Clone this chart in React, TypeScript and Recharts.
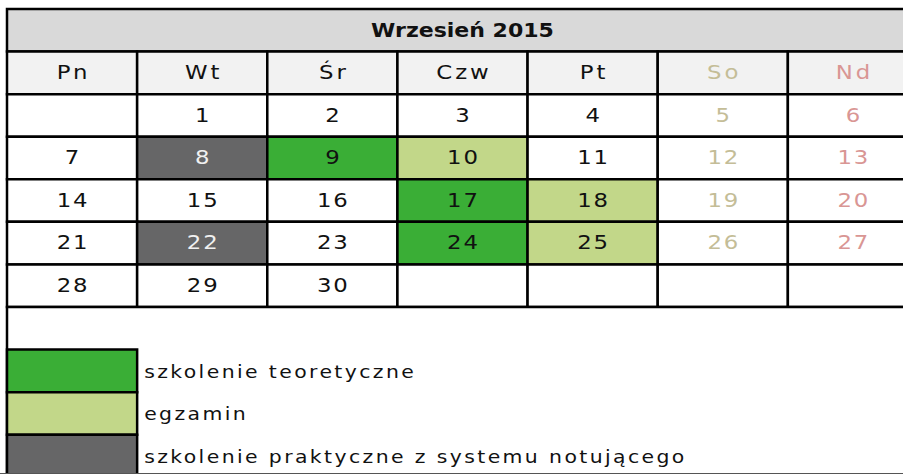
import { ScatterChart, XAxis, YAxis, ReferenceArea, Scatter } from 'recharts'

const title = 'Wrzesień 2015'
const weekdays = ['Pn', 'Wt', 'Śr', 'Czw', 'Pt', 'So', 'Nd']
const weeks: (number | null)[][] = [
  [null, 1, 2, 3, 4, 5, 6],
  [7, 8, 9, 10, 11, 12, 13],
  [14, 15, 16, 17, 18, 19, 20],
  [21, 22, 23, 24, 25, 26, 27],
  [28, 29, 30, null, null, null, null],
]
const teoria = [9, 17, 24]
const egzamin = [10, 18, 25]
const praktyka = [8, 22]
const legendLabels = ['szkolenie teoretyczne', 'egzamin', 'szkolenie praktyczne z systemu notującego']

const GREEN = '#3aae36'
const LIGHT = '#c2d789'
const GRAY = '#666667'
const FONT = '"DejaVu Sans", Verdana, sans-serif'
const SX = 1.2

const dayColor = (col: number, fill: string) =>
  fill === GRAY ? '#f0f0f0' : col === 5 ? '#c4bd97' : col === 6 ? '#d99694' : '#111'

const cellFill = (day: number) =>
  teoria.includes(day) ? GREEN : egzamin.includes(day) ? LIGHT : praktyka.includes(day) ? GRAY : '#fff'

const cells = weeks.flatMap((week, w) =>
  week.map((day, col) => ({ day, col, row: w + 2, fill: day ? cellFill(day) : '#fff' }))
)
const dayPoints = cells
  .filter((c) => c.day !== null)
  .map((c) => ({ x: c.col + 0.5, y: c.row + 0.5, day: c.day, col: c.col, fill: c.fill }))

function SText({ x, y, text, color, size = 19, spacing = 1.5, bold = false, anchor = 'middle', sx = SX }: any) {
  return (
    <text
      transform={`translate(${x},${y}) scale(${sx},1)`}
      dx={anchor === 'middle' ? spacing / 2 : 0}
      textAnchor={anchor}
      dominantBaseline="central"
      fontFamily={FONT}
      fontSize={size}
      fontWeight={bold ? 'bold' : 'normal'}
      letterSpacing={spacing}
      fill={color}
    >
      {text}
    </text>
  )
}

const centerLabel = (text: string, color: string, opts: any = {}) => (props: any) => {
  const vb = props.viewBox
  return <SText x={vb.x + vb.width / 2} y={vb.y + vb.height / 2} text={text} color={color} {...opts} />
}

const leftLabel = (text: string) => (props: any) => {
  const vb = props.viewBox
  return <SText x={vb.x + 7} y={vb.y + vb.height / 2 + 1} text={text} color="#111" anchor="start" size={17} spacing={2} />
}

const legendFills = [GREEN, LIGHT, GRAY]

export default function App() {
  return (
    <div
      style={{
        position: 'absolute',
        left: 0,
        top: 0,
        width: 903,
        height: 473,
        overflow: 'hidden',
        borderBottom: '1px solid #555',
        background: '#fff',
      }}
    >
      <ScatterChart width={920} height={480} margin={{ top: 9, right: 2, bottom: 2.7, left: 7 }}>
        <XAxis type="number" dataKey="x" domain={[0, 7]} hide />
        <YAxis type="number" dataKey="y" domain={[0, 11]} reversed hide />

        <ReferenceArea
          x1={0}
          x2={7}
          y1={0}
          y2={1}
          fill="#d9d9d9"
          fillOpacity={1}
          stroke="#000"
          strokeWidth={2.5}
          label={centerLabel(title, '#111', { bold: true, size: 19, spacing: 0, sx: 1.16 })}
        />
        {weekdays.map((d, i) => (
          <ReferenceArea
            key={d}
            x1={i}
            x2={i + 1}
            y1={1}
            y2={2}
            fill="#f2f2f2"
            fillOpacity={1}
            stroke="#000"
            strokeWidth={2.5}
            label={centerLabel(d, dayColor(i, '#f2f2f2'), { spacing: 2.5 })}
          />
        ))}
        {cells.map((c) => (
          <ReferenceArea
            key={`${c.row}-${c.col}`}
            x1={c.col}
            x2={c.col + 1}
            y1={c.row}
            y2={c.row + 1}
            fill={c.fill}
            fillOpacity={1}
            stroke="#000"
            strokeWidth={2.5}
          />
        ))}

        <ReferenceArea x1={0} x2={7} y1={7} y2={11} fill="#fff" fillOpacity={1} stroke="#000" strokeWidth={2.5} />
        {legendLabels.map((l, i) => (
          <ReferenceArea
            key={`box-${l}`}
            x1={0}
            x2={1}
            y1={8 + i}
            y2={9 + i}
            fill={legendFills[i]}
            fillOpacity={1}
            stroke="#000"
            strokeWidth={2.5}
          />
        ))}
        {legendLabels.map((l, i) => (
          <ReferenceArea
            key={`txt-${l}`}
            x1={1}
            x2={7}
            y1={8 + i}
            y2={9 + i}
            fill="none"
            stroke="none"
            label={leftLabel(l)}
          />
        ))}

        <Scatter
          data={dayPoints}
          isAnimationActive={false}
          shape={(p: any) => (
            <SText x={p.cx} y={p.cy} text={String(p.payload.day)} color={dayColor(p.payload.col, p.payload.fill)} />
          )}
        />
      </ScatterChart>
    </div>
  )
}
